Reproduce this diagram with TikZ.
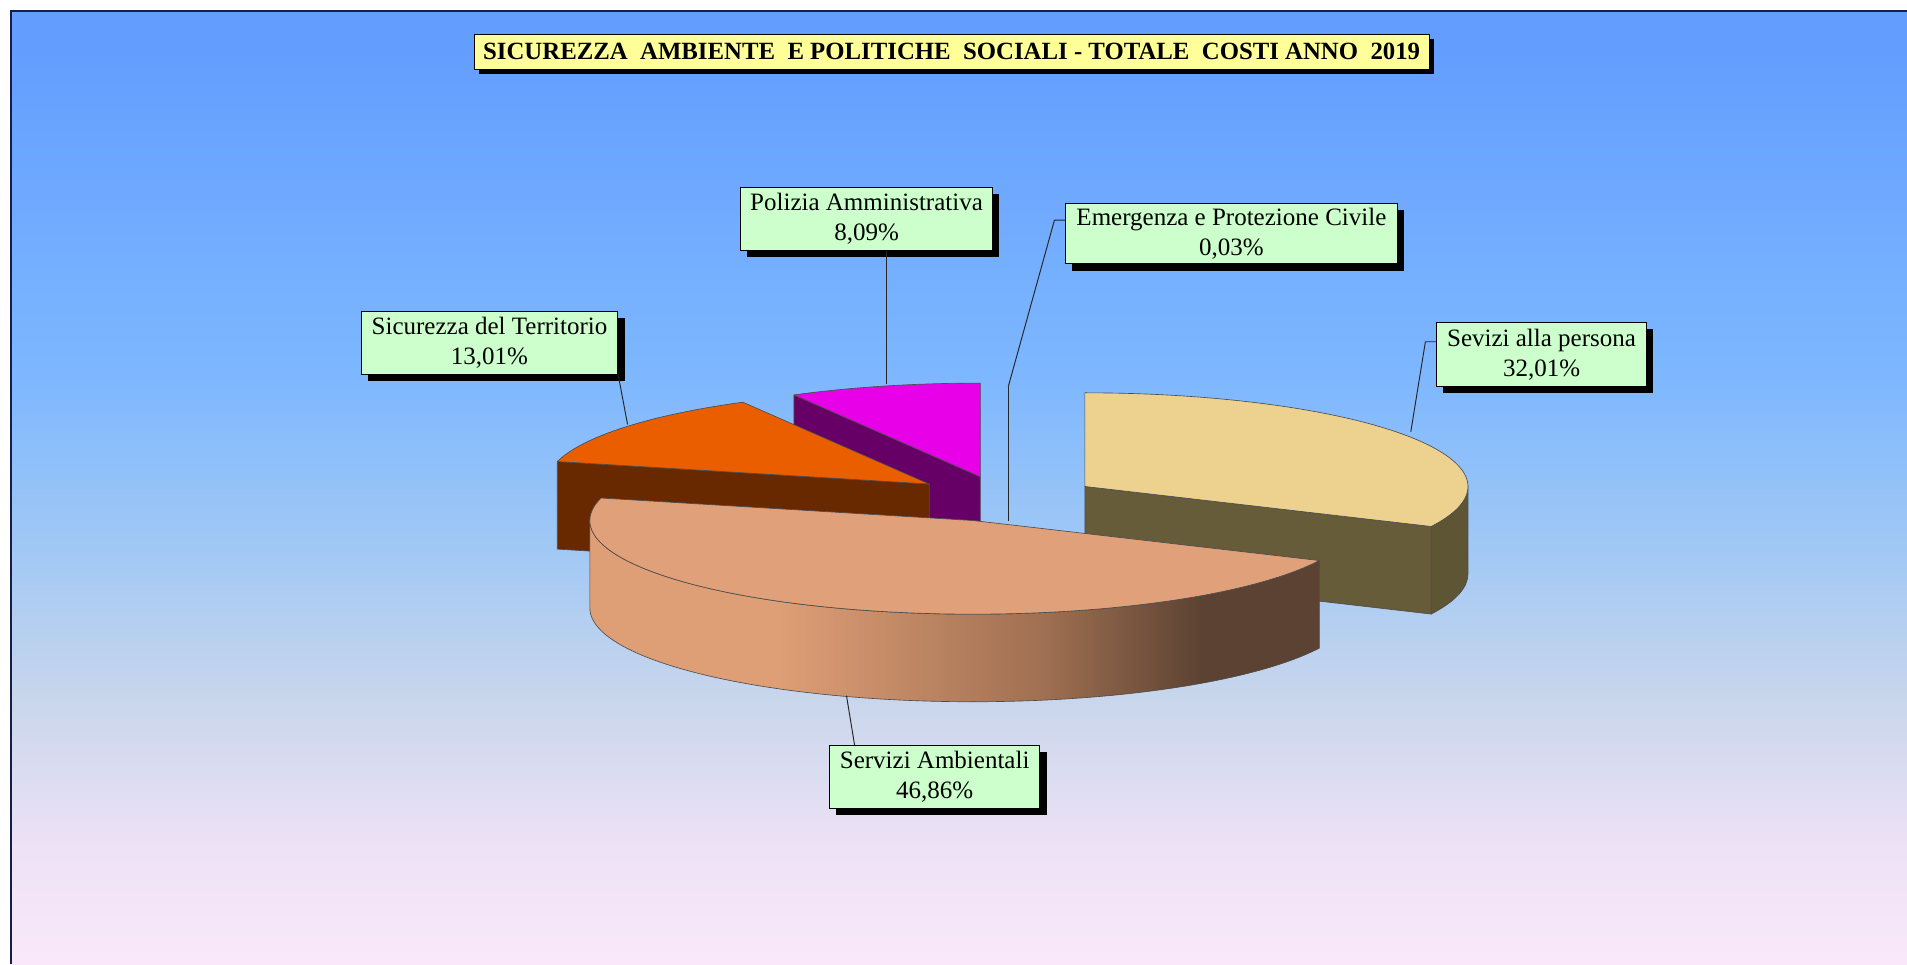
\documentclass[tikz,border=0pt]{standalone}
\usepackage{fontspec}
\setmainfont{Liberation Serif}
\usetikzlibrary{calc,shadows}

\definecolor{lblgreen}{RGB}{204,255,204}
\definecolor{ttlyellow}{RGB}{255,255,153}
\definecolor{polTop}{RGB}{232,0,232}
\definecolor{polSide}{RGB}{102,0,102}
\definecolor{sicTop}{RGB}{234,94,0}
\definecolor{sicSide}{RGB}{104,40,0}
\definecolor{sevTop}{RGB}{236,210,142}
\definecolor{sevSide}{RGB}{102,92,58}
\definecolor{ambTop}{RGB}{224,160,122}
\definecolor{ambL}{RGB}{222,158,118}
\definecolor{ambM}{RGB}{160,112,82}
\definecolor{ambR}{RGB}{92,66,50}
\definecolor{frameblue}{RGB}{20,30,70}
\definecolor{bg0}{RGB}{250,232,250}
\definecolor{bg1}{RGB}{238,226,246}
\definecolor{bg2}{RGB}{200,214,236}
\definecolor{bg3}{RGB}{160,200,245}
\definecolor{bg4}{RGB}{125,183,255}
\definecolor{bg5}{RGB}{99,158,255}

\pgfdeclarehorizontalshading{ambside}{100bp}{color(0bp)=(ambL); color(38bp)=(ambL); color(56bp)=(ambM); color(67bp)=(ambR); color(100bp)=(ambR)}
\pgfdeclareverticalshading{bgshade}{100bp}{color(0bp)=(bg0); color(25bp)=(bg0); color(31bp)=(bg1); color(39bp)=(bg2); color(47bp)=(bg3); color(56bp)=(bg4); color(73bp)=(bg5); color(100bp)=(bg5)}

\begin{document}
\begin{tikzpicture}[x=0.02cm,y=0.02cm,
  lbl/.style={draw=black, fill=lblgreen, align=center, inner sep=0pt,
    font=\fontsize{11.7}{14}\selectfont,
    drop shadow={shadow xshift=0.11cm, shadow yshift=-0.11cm, fill=black, opacity=1}},
  ttl/.style={draw=black, fill=ttlyellow, inner sep=0pt,
    font=\fontsize{11.6}{13}\selectfont\bfseries,
    drop shadow={shadow xshift=0.08cm, shadow yshift=-0.08cm, fill=black, opacity=1}},
  lead/.style={draw=black!85, line width=0.45pt},
  edge/.style={draw=black!70, line width=0.3pt, line join=round}]
\useasboundingbox (0,0) rectangle (1568,793);
\shade[shading=bgshade] (9,0) rectangle (1568,784);
\draw[frameblue, line width=1pt] (9,0) -- (9,784) -- (1568,784);

% apexes of the exploded slices
\coordinate (P) at (806,401);
\coordinate (S) at (764,395);
\coordinate (V) at (892,393);
\coordinate (A) at (800,365);

% Polizia Amministrativa
\filldraw[fill=polSide, edge] (P) -- ($(P)+(119.1:315 and 77)$) -- ++(0,-72) -- ($(P)+(0,-72)$) -- cycle;
\filldraw[fill=polTop, edge] (P) -- ++(0,77) arc[start angle=90, end angle=119.1, x radius=315, y radius=77] -- cycle;

% Sicurezza del Territorio
\filldraw[fill=sicSide, edge] (S) -- ($(S)+(166.1:315 and 77)$) -- ++(0,-72) -- ($(S)+(0,-72)$) -- cycle;
\filldraw[fill=sicTop, edge] (S) -- ($(S)+(119.1:315 and 77)$) arc[start angle=119.1, end angle=166.1, x radius=315, y radius=77] -- cycle;

% Emergenza e Protezione Civile
\draw[lead] (829,475) -- (829,365);

% Sevizi alla persona
\filldraw[fill=sevSide, edge] (V) -- ($(V)+(-25.3:315 and 77)$) -- ++(0,-72) -- ($(V)+(0,-72)$) -- cycle;
\filldraw[fill=sevSide!92!black, edge] ($(V)+(-25.3:315 and 77)$) arc[start angle=-25.3, end angle=0, x radius=315, y radius=77] -- ++(0,-72) arc[start angle=0, end angle=-25.3, x radius=315, y radius=77] -- cycle;
\filldraw[fill=sevTop, edge] (V) -- ($(V)+(-25.3:315 and 77)$) arc[start angle=-25.3, end angle=90, x radius=315, y radius=77] -- cycle;

% Servizi Ambientali
\shade[shading=ambside] ($(A)+(180:315 and 77)$) arc[start angle=180, end angle=334.7, x radius=315, y radius=77] -- ++(0,-72) arc[start angle=334.7, end angle=180, x radius=315, y radius=77] -- cycle;
\draw[edge] ($(A)+(180:315 and 77)$) arc[start angle=180, end angle=334.7, x radius=315, y radius=77] -- ++(0,-72) arc[start angle=334.7, end angle=180, x radius=315, y radius=77] -- cycle;
\filldraw[fill=ambTop, edge] (A) -- ($(A)+(166.1:315 and 77)$) arc[start angle=166.1, end angle=334.7, x radius=315, y radius=77] -- cycle;

% title and labels
\node[ttl, minimum width=15.7cm, minimum height=0.58cm] (titolo) at (782.5,750.5)
  {SICUREZZA\ \ AMBIENTE\ \ E POLITICHE\ \ SOCIALI - TOTALE\ \ COSTI ANNO\ \ 2019};
\node[lbl, minimum width=4.14cm, minimum height=1.04cm] (pol) at (712.5,613) {Polizia Amministrativa\\8,09\%};
\node[lbl, minimum width=5.46cm, minimum height=1.0cm] (eme) at (1012.5,601) {Emergenza e Protezione Civile\\0,03\%};
\node[lbl, minimum width=4.22cm, minimum height=1.04cm] (sic) at (402.5,511) {Sicurezza del Territorio\\13,01\%};
\node[lbl, minimum width=3.46cm, minimum height=1.06cm] (sev) at (1267.5,501.5) {Sevizi alla persona\\32,01\%};
\node[lbl, minimum width=3.46cm, minimum height=1.04cm] (amb) at (768.5,154) {Servizi Ambientali\\46,86\%};

% leader lines
\coordinate (polpt) at (729,477);
\coordinate (emek) at (867,612);
\coordinate (emept) at (829,475);
\coordinate (sicpt) at (516,444);
\coordinate (sevk) at (1172,512);
\coordinate (sevpt) at (1160,438);
\coordinate (ambpt) at (696,221);
\draw[lead] (pol.south -| polpt) -- (polpt);
\draw[lead] (eme.west |- emek) -- (emek) -- (emept);
\draw[lead] (sic.south east) -- (sicpt);
\draw[lead] (sev.west |- sevk) -- (sevk) -- (sevpt);
\draw[lead] ($(amb.north west)+(21,0)$) -- (ambpt);

\end{tikzpicture}
\end{document}
